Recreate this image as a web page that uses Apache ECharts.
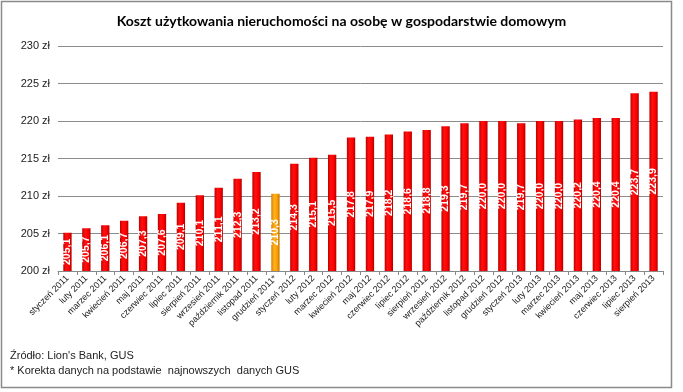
<!DOCTYPE html>
<html><head><meta charset="utf-8">
<script src="https://cdn.jsdelivr.net/npm/echarts@6/dist/echarts.min.js"></script>
<style>html,body{margin:0;padding:0;background:#fff}#c{width:683px;height:392px}</style>
</head><body><div id="c"></div>
<script>
const categories = ["styczeń 2011","luty 2011","marzec 2011","kwiecień 2011","maj 2011","czerwiec 2011","lipiec 2011","sierpień 2011","wrzesień 2011","październik 2011","listopad 2011","grudzień 2011*","styczeń 2012","luty 2012","marzec 2012","kwiecień 2012","maj 2012","czerwiec 2012","lipiec 2012","sierpień 2012","wrzesień 2012","październik 2012","listopad 2012","grudzień 2012","styczeń 2013","luty 2013","marzec 2013","kwiecień 2013","maj 2013","czerwiec 2013","lipiec 2013","sierpień 2013"];
const values = [205.1,205.7,206.1,206.7,207.3,207.6,209.1,210.1,211.1,212.3,213.2,210.3,214.3,215.1,215.5,217.8,217.9,218.2,218.6,218.8,219.3,219.7,220.0,220.0,219.7,220.0,220.0,220.2,220.4,220.4,223.7,223.9];
const highlightIndex = 11;
const yTicks = [200,205,210,215,220,225,230];

const red = new echarts.graphic.LinearGradient(0,0,1,0,[{offset:0,color:'#c00000'},{offset:0.35,color:'#ff1010'},{offset:0.7,color:'#ff0000'},{offset:1,color:'#b00000'}]);
const orange = new echarts.graphic.LinearGradient(0,0,1,0,[{offset:0,color:'#d08000'},{offset:0.35,color:'#ffb020'},{offset:0.7,color:'#ffa000'},{offset:1,color:'#c07000'}]);

const chart = echarts.init(document.getElementById('c'));
chart.setOption({
  animation:false,
  backgroundColor:'#fff',
  title:{text:'Koszt użytkowania nieruchomości na osobę w gospodarstwie domowym',left:'center',top:9,
    textStyle:{fontFamily:'Lato',fontWeight:'bold',fontSize:14,color:'#000'}},
  grid:{left:58,right:20,top:46,bottom:121},
  xAxis:{type:'category',data:categories,
    axisLine:{lineStyle:{color:'#888'}},
    axisTick:{show:true,interval:0,length:4,lineStyle:{color:'#888'}},
    axisLabel:{interval:0,rotate:45,fontSize:9,color:'#222',fontFamily:'Liberation Sans',margin:6}},
  yAxis:{type:'value',min:yTicks[0],max:yTicks[yTicks.length-1],interval:5,
    axisLine:{show:false},axisTick:{show:false},
    splitLine:{lineStyle:{color:'#8c8c8c'}},
    axisLabel:{formatter:v=>v+' zł',fontSize:11,color:'#222',fontFamily:'Liberation Sans',margin:8}},
  series:[{type:'bar',barWidth:'44%',
    data:values.map((v,i)=>({value:v,itemStyle:{color:i===highlightIndex?orange:red}})),
    label:{show:true,position:'inside',rotate:90,color:'#fff',fontWeight:'bold',fontSize:10.5,fontFamily:'Liberation Sans',
      formatter:p=>p.value.toFixed(1).replace('.',',')}}],
  graphic:[
    {type:'rect',shape:{x:1.5,y:1.5,width:670,height:386},style:{fill:null,stroke:'#8a8a8a',lineWidth:1.5}},
    {type:'text',left:10,top:350,style:{text:'Źródło: Lion\'s Bank, GUS',font:'11px Liberation Sans',fill:'#222'}},
    {type:'text',left:10,top:365,style:{text:'* Korekta danych na podstawie  najnowszych  danych GUS',font:'11px Liberation Sans',fill:'#222'}}
  ]
});
</script></body></html>
